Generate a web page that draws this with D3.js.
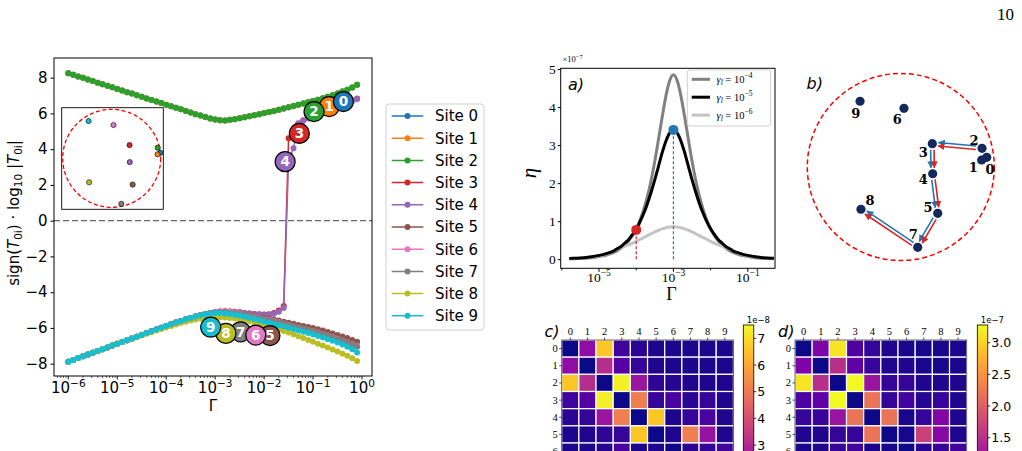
<!DOCTYPE html>
<html>
<head>
<meta charset="utf-8">
<script src="https://cdn.jsdelivr.net/npm/d3@7"></script>
<style>
body { margin: 0; background: #fff; }
svg { display: block; }
text { font-family: "DejaVu Sans", sans-serif; }
</style>
</head>
<body>
<div id="fig"></div>
<script>
// ---------------- data ----------------
// main panel: Gamma grid (log10) and sign(T0i)*log10|T0i| per site
const logGamma = [-6.0,-5.9,-5.8,-5.7,-5.6,-5.5,-5.4,-5.3,-5.2,-5.1,-5.0,-4.9,-4.8,-4.7,-4.6,-4.5,-4.4,-4.3,-4.2,-4.1,
  -4.0,-3.9,-3.8,-3.7,-3.6,-3.5,-3.4,-3.3,-3.2,-3.1,-3.0,-2.9,-2.8,-2.7,-2.6,-2.5,-2.4,-2.3,-2.2,-2.1,
  -2.0,-1.9,-1.8,-1.7,-1.6,-1.5,-1.4,-1.3,-1.2,-1.1,-1.0,-0.9,-0.8,-0.7,-0.6,-0.5,-0.4,-0.3,-0.2,-0.1];

// sites 0, 1 and 2 sit on the same upper branch
const upperBranch = [8.25,8.16,8.07,7.99,7.90,7.81,7.72,7.63,7.55,7.46, 7.37,7.28,7.19,7.11,7.02,6.93,6.84,6.75,6.67,6.58,
  6.49,6.40,6.31,6.23,6.14,6.05,5.96,5.88,5.80,5.72, 5.66,5.62,5.61,5.64,5.68,5.73,5.78,5.84,5.90,5.96,
  6.02,6.08,6.14,6.21,6.28,6.35,6.42,6.49,6.56,6.63, 6.70,6.77,6.85,6.93,7.02,7.12,7.22,7.33,7.45,7.60];
const site3 = [-7.89,-7.79,-7.69,-7.59,-7.49,-7.39,-7.29,-7.19,-7.09,-6.99, -6.89,-6.79,-6.69,-6.59,-6.49,-6.39,-6.29,-6.19,-6.09,-5.99,
  -5.89,-5.80,-5.70,-5.61,-5.52,-5.44,-5.36,-5.29,-5.23,-5.17, -5.12,-5.08,-5.07,-5.08,-5.10,-5.13,-5.16,-5.19,-5.22,-5.24,
  -5.25,-5.23,-5.17,-5.03,-4.77,4.61,4.95,5.42,5.62,5.75, 5.87,5.98,6.09,6.20,6.31,6.41,6.52,6.63,6.73,6.84];
const site4 = [-7.89,-7.79,-7.69,-7.59,-7.49,-7.39,-7.29,-7.19,-7.09,-6.99, -6.89,-6.79,-6.69,-6.59,-6.49,-6.39,-6.29,-6.19,-6.09,-5.99,
  -5.89,-5.80,-5.70,-5.61,-5.52,-5.44,-5.36,-5.29,-5.23,-5.17, -5.12,-5.08,-5.07,-5.08,-5.10,-5.13,-5.16,-5.19,-5.22,-5.25,
  -5.27,-5.26,-5.21,-5.10,-4.88,3.30,4.05,5.45,5.59,5.71, 5.83,5.94,6.05,6.16,6.27,6.38,6.49,6.60,6.70,6.81];
const site5 = [-7.89,-7.79,-7.69,-7.59,-7.49,-7.39,-7.29,-7.19,-7.09,-6.99, -6.89,-6.79,-6.69,-6.59,-6.49,-6.39,-6.29,-6.19,-6.09,-5.99,
  -5.89,-5.80,-5.70,-5.61,-5.52,-5.44,-5.36,-5.29,-5.23,-5.17, -5.13,-5.10,-5.09,-5.11,-5.14,-5.18,-5.22,-5.27,-5.32,-5.37,
  -5.42,-5.47,-5.53,-5.59,-5.65,-5.71,-5.77,-5.83,-5.89,-5.95, -6.01,-6.08,-6.15,-6.23,-6.31,-6.39,-6.48,-6.57,-6.67,-6.77];
const site6 = [-7.89,-7.79,-7.69,-7.59,-7.49,-7.39,-7.29,-7.19,-7.09,-6.99, -6.89,-6.79,-6.69,-6.59,-6.49,-6.39,-6.29,-6.19,-6.09,-5.99,
  -5.89,-5.80,-5.70,-5.61,-5.52,-5.44,-5.36,-5.29,-5.23,-5.17, -5.13,-5.09,-5.08,-5.10,-5.14,-5.19,-5.24,-5.30,-5.36,-5.42,
  -5.49,-5.55,-5.62,-5.69,-5.76,-5.83,-5.90,-5.97,-6.04,-6.11, -6.18,-6.26,-6.34,-6.42,-6.51,-6.60,-6.70,-6.80,-6.91,-7.03];
const site7 = [-7.89,-7.79,-7.69,-7.59,-7.49,-7.39,-7.29,-7.19,-7.09,-6.99, -6.89,-6.79,-6.69,-6.59,-6.49,-6.39,-6.29,-6.19,-6.09,-5.99,
  -5.89,-5.80,-5.70,-5.61,-5.52,-5.44,-5.36,-5.29,-5.23,-5.18, -5.15,-5.13,-5.13,-5.15,-5.18,-5.22,-5.27,-5.33,-5.39,-5.45,
  -5.51,-5.57,-5.64,-5.71,-5.78,-5.85,-5.92,-5.99,-6.06,-6.13, -6.20,-6.28,-6.36,-6.44,-6.53,-6.62,-6.72,-6.82,-6.93,-7.05];
const site8 = [-7.89,-7.79,-7.69,-7.59,-7.49,-7.39,-7.29,-7.19,-7.09,-6.99, -6.89,-6.79,-6.69,-6.60,-6.51,-6.42,-6.33,-6.24,-6.15,-6.06,
  -5.97,-5.89,-5.81,-5.73,-5.66,-5.59,-5.53,-5.48,-5.44,-5.42, -5.41,-5.41,-5.42,-5.44,-5.47,-5.51,-5.56,-5.62,-5.68,-5.76,
  -5.85,-5.93,-6.01,-6.09,-6.17,-6.26,-6.36,-6.46,-6.57,-6.67, -6.78,-6.88,-6.99,-7.10,-7.21,-7.32,-7.44,-7.56,-7.70,-7.85];
const site9 = [-7.89,-7.79,-7.69,-7.59,-7.49,-7.39,-7.29,-7.19,-7.09,-6.99, -6.89,-6.79,-6.69,-6.59,-6.49,-6.39,-6.29,-6.19,-6.09,-5.99,
  -5.89,-5.80,-5.70,-5.61,-5.52,-5.44,-5.36,-5.29,-5.23,-5.19, -5.17,-5.17,-5.19,-5.22,-5.26,-5.31,-5.37,-5.43,-5.50,-5.57,
  -5.64,-5.71,-5.78,-5.85,-5.92,-5.99,-6.06,-6.13,-6.21,-6.29, -6.37,-6.45,-6.54,-6.63,-6.72,-6.82,-6.93,-7.05,-7.20,-7.38];

const siteValues = [upperBranch, upperBranch, upperBranch, site3, site4, site5, site6, site7, site8, site9];
const siteNames = ["Site 0","Site 1","Site 2","Site 3","Site 4","Site 5","Site 6","Site 7","Site 8","Site 9"];
const siteColors = ["#1f77b4","#ff7f0e","#2ca02c","#d62728","#9467bd","#8c564b","#e377c2","#7f7f7f","#bcbd22","#17becf"];

// numbered markers on the main panel (log10 Gamma, value)
const markerGammaExp = [-0.38,-0.67,-0.98,-1.28,-1.57,-1.88,-2.17,-2.48,-2.78,-3.09];
const markerValue = [6.66,6.38,6.10,4.88,3.30,-6.43,-6.40,-6.22,-6.31,-5.96];
const markerOrder = [1,0,2,3,4,5,7,6,8,9];

// site positions on the ring (units of the ring radius, y up)
const siteX = [0.919,0.865,0.869,0.337,0.341,0.395,0.034,0.181,-0.426,-0.436];
const siteY = [0.104,0.075,0.200,0.249,-0.072,-0.495,0.628,-0.859,-0.452,0.703];
const hopPath = [2,3,4,5,7,8];

// panel a: eta (x1e-7) vs Gamma for three gamma_l
const etaGammaExp = [-5.8,-5.7,-5.6,-5.5,-5.4,-5.3,-5.2,-5.1,-5.0,-4.9,-4.8,-4.7,-4.6,-4.5,-4.4,-4.3,-4.2,-4.1,-4.0,-3.9,
  -3.8,-3.7,-3.6,-3.5,-3.4,-3.3,-3.2,-3.1,-3.0,-2.9,-2.8,-2.7,-2.6,-2.5,-2.4,-2.3,-2.2,-2.1,-2.0,-1.9,
  -1.8,-1.7,-1.6,-1.5,-1.4,-1.3,-1.2,-1.1,-1.0,-0.9,-0.8,-0.7,-0.6,-0.5,-0.4,-0.3];
const etaHigh = [0.009,0.012,0.015,0.019,0.025,0.032,0.040,0.052,0.067,0.086,0.11,0.14,0.18,0.23,0.30,0.38,0.49,0.625,0.79,1.02,
  1.30,1.65,2.07,2.58,3.16,3.75,4.30,4.70,4.85,4.70,4.30,3.75,3.16,2.58,2.07,1.65,1.30,1.02,0.79,0.625,
  0.49,0.38,0.30,0.23,0.18,0.14,0.11,0.086,0.067,0.052,0.040,0.032,0.025,0.019,0.015,0.012];
const etaMid = [0.017,0.022,0.027,0.033,0.040,0.050,0.063,0.080,0.10,0.12,0.15,0.18,0.22,0.28,0.34,0.43,0.52,0.65,0.77,0.98,
  1.20,1.46,1.76,2.09,2.45,2.81,3.11,3.32,3.40,3.32,3.11,2.81,2.45,2.09,1.76,1.46,1.20,0.98,0.80,0.65,
  0.52,0.43,0.34,0.28,0.22,0.18,0.15,0.12,0.10,0.080,0.063,0.050,0.040,0.033,0.027,0.022];
const etaLow = [0.016,0.020,0.025,0.031,0.038,0.048,0.060,0.075,0.09,0.11,0.14,0.17,0.21,0.27,0.309,0.344,0.383,0.424,0.469,0.517,
  0.567,0.619,0.669,0.717,0.761,0.798,0.826,0.844,0.85,0.844,0.826,0.798,0.761,0.717,0.669,0.619,0.567,0.517,0.469,0.424,
  0.383,0.344,0.309,0.27,0.21,0.17,0.14,0.11,0.09,0.075,0.06,0.048,0.038,0.031,0.025,0.020];
const etaLabels = ["\u22124", "\u22125", "\u22126"];
const etaMarkExp = [-4.0, -3.0];

// panels c and d: transfer matrices
const matrixC = [ // x1e-8
  [0,2.25,6.6,0.68,0.38,0.15,0.15,0.15,0.15,0.15],
  [2.25,0,3.08,1.13,0.53,0.23,0.15,0.15,0.15,0.15],
  [6.6,3.08,0,7.35,2.48,0.45,0.3,0.23,0.23,0.23],
  [0.68,1.13,7.35,0,5.1,0.53,0.9,0.38,0.53,0.23],
  [0.38,0.53,2.48,5.1,0,6.6,0.15,0.53,0.9,0.23],
  [0.15,0.23,0.45,0.53,6.6,0,0.23,5.1,2.4,0.23],
  [0.15,0.15,0.3,0.9,0.15,0.23,0,0.38,0.53,0.75],
  [0.15,0.15,0.23,0.38,0.53,5.1,0.38,0,0.75,0.3],
  [0.15,0.15,0.23,0.53,0.9,2.4,0.53,0.75,0,0.38],
  [0.15,0.15,0.23,0.23,0.23,0.23,0.75,0.3,0.38,0]];
const matrixD = [ // x1e-7
  [0.2,0.97,3.13,0.6,0.42,0.29,0.26,0.26,0.26,0.26],
  [0.97,0.2,1.49,0.72,0.45,0.29,0.29,0.26,0.26,0.26],
  [3.13,1.49,0.2,3.28,1.19,0.42,0.42,0.29,0.29,0.29],
  [0.6,0.72,3.28,0.2,2.2,0.42,0.51,0.32,0.42,0.29],
  [0.42,0.45,1.19,2.2,0.2,2.2,0.26,0.42,1.03,0.29],
  [0.29,0.29,0.42,0.42,2.2,0.2,0.26,1.68,1.06,0.29],
  [0.26,0.29,0.42,0.51,0.26,0.26,0.2,0.35,0.42,0.51],
  [0.26,0.26,0.29,0.32,0.42,1.68,0.35,0.2,0.51,0.32],
  [0.26,0.26,0.29,0.42,1.03,1.06,0.42,0.51,0.2,0.35],
  [0.26,0.26,0.29,0.29,0.29,0.29,0.51,0.32,0.35,0.2]];
const cbTicksC = [3,4,5,6,7];
const cbTicksD = [1.5,2.0,2.5,3.0];

// ---------------- figure ----------------
const SERIF = '"Liberation Serif", "DejaVu Serif", serif';
const svg = d3.select("#fig").append("svg").attr("width", 1022).attr("height", 451);
svg.append("rect").attr("width", 1022).attr("height", 451).attr("fill", "#fff");
const defs = svg.append("defs");

// page number
svg.append("text").attr("x", 1014).attr("y", 20).attr("text-anchor", "end")
  .style("font-family", SERIF).attr("font-size", 17).text("10");

// helper: "10^k" label
function powLabel(g, x, y, exp, size, supSize, family) {
  const t = g.append("text").attr("x", x).attr("y", y).attr("text-anchor", "middle")
    .attr("font-size", size).style("font-family", family);
  t.append("tspan").text("10");
  t.append("tspan").attr("font-size", supSize).attr("dy", -size * 0.42).text(exp < 0 ? "\u2212" + (-exp) : exp);
  return t;
}

// ======== main panel ========
const M = {left: 54, right: 372, top: 58, bottom: 376};
const X_MAIN = d3.scaleLog().domain([Math.pow(10, -6.292), Math.pow(10, 0.204)]).range([M.left, M.right]);
const Y_MAIN = d3.scaleLinear().domain([-8.69, 9.10]).range([M.bottom, M.top]);

defs.append("clipPath").attr("id", "clipMain").append("rect")
  .attr("x", M.left).attr("y", M.top).attr("width", M.right - M.left).attr("height", M.bottom - M.top);

const mainG = svg.append("g");
mainG.append("line").attr("x1", M.left).attr("x2", M.right)
  .attr("y1", Y_MAIN(0)).attr("y2", Y_MAIN(0))
  .attr("stroke", "#666").attr("stroke-width", 1.4).attr("stroke-dasharray", "6,3");

const plotArea = mainG.append("g").attr("clip-path", "url(#clipMain)");
const lineMain = d3.line().x(d => X_MAIN(Math.pow(10, d[0]))).y(d => Y_MAIN(d[1]));
siteValues.forEach((vals, s) => {
  const pts = logGamma.map((lg, i) => [lg, vals[i]]);
  const g = plotArea.append("g");
  g.append("path").attr("d", lineMain(pts)).attr("fill", "none")
    .attr("stroke", siteColors[s]).attr("stroke-width", 1.5);
  g.selectAll("circle").data(pts).enter().append("circle")
    .attr("cx", d => X_MAIN(Math.pow(10, d[0]))).attr("cy", d => Y_MAIN(d[1]))
    .attr("r", 3).attr("fill", siteColors[s]);
});

// numbered markers
markerOrder.forEach(s => {
  const cx = X_MAIN(Math.pow(10, markerGammaExp[s])), cy = Y_MAIN(markerValue[s]);
  mainG.append("circle").attr("cx", cx).attr("cy", cy).attr("r", 10)
    .attr("fill", siteColors[s]).attr("stroke", "#000").attr("stroke-width", 1.2);
  mainG.append("text").attr("x", cx).attr("y", cy + 4.8).attr("text-anchor", "middle")
    .attr("font-size", 13.5).attr("font-weight", "bold").attr("fill", "#fff").text(s);
});

// frame and axes
mainG.append("rect").attr("x", M.left).attr("y", M.top).attr("width", M.right - M.left)
  .attr("height", M.bottom - M.top).attr("fill", "none").attr("stroke", "#000").attr("stroke-width", 1);

const yAxisMain = mainG.append("g").attr("transform", "translate(" + M.left + ",0)")
  .call(d3.axisLeft(Y_MAIN).tickValues([-8,-6,-4,-2,0,2,4,6,8]).tickSize(3.5).tickPadding(3));
yAxisMain.select(".domain").remove();
yAxisMain.selectAll("text").attr("font-size", 15).style("font-family", "DejaVu Sans");

const xAxisMain = mainG.append("g");
for (let e = -6; e <= 0; e++) {
  const x = X_MAIN(Math.pow(10, e));
  xAxisMain.append("line").attr("x1", x).attr("x2", x).attr("y1", M.bottom).attr("y2", M.bottom + 3.5)
    .attr("stroke", "#000").attr("stroke-width", 0.9);
  powLabel(xAxisMain, x, 393, e, 15, 10.5, "DejaVu Sans");
}
for (let e = -7; e <= 0; e++) {
  for (let k = 2; k <= 9; k++) {
    const v = k * Math.pow(10, e);
    if (v < X_MAIN.domain()[0] || v > X_MAIN.domain()[1]) continue;
    const x = X_MAIN(v);
    xAxisMain.append("line").attr("x1", x).attr("x2", x).attr("y1", M.bottom).attr("y2", M.bottom + 2)
      .attr("stroke", "#000").attr("stroke-width", 0.6);
  }
}
mainG.append("text").attr("x", (M.left + M.right) / 2).attr("y", 410.5).attr("text-anchor", "middle")
  .attr("font-size", 15).text("\u0393");

const ylab = mainG.append("text").attr("transform", "translate(19," + ((M.top + M.bottom) / 2 - 4) + ") rotate(-90)")
  .attr("text-anchor", "middle").attr("font-size", 15);
ylab.append("tspan").text("sign(");
ylab.append("tspan").attr("font-style", "italic").text("T");
ylab.append("tspan").attr("font-size", 10.5).attr("dy", 3).text("0i");
ylab.append("tspan").attr("dy", -3).text(") \u00b7 log");
ylab.append("tspan").attr("font-size", 10.5).attr("dy", 3).text("10");
ylab.append("tspan").attr("dy", -3).text(" |");
ylab.append("tspan").attr("font-style", "italic").text("T");
ylab.append("tspan").attr("font-size", 10.5).attr("dy", 3).text("0i");
ylab.append("tspan").attr("dy", -3).text("|");

// inset with site layout
const inset = {x: 61.7, y: 107.7, size: 101.6, cx: 111.7, cy: 158.3, ring: 49, unit: 53};
const insetG = mainG.append("g");
insetG.append("rect").attr("x", inset.x).attr("y", inset.y).attr("width", inset.size).attr("height", inset.size)
  .attr("fill", "#fff").attr("stroke", "#000").attr("stroke-width", 0.9);
const IX = d3.scaleLinear().domain([-1, 1]).range([inset.cx - inset.unit, inset.cx + inset.unit]);
const IY = d3.scaleLinear().domain([-1, 1]).range([inset.cy + inset.unit, inset.cy - inset.unit]);
insetG.append("circle").attr("cx", inset.cx).attr("cy", inset.cy).attr("r", inset.ring)
  .attr("fill", "none").attr("stroke", "#ff0000").attr("stroke-width", 1.3).attr("stroke-dasharray", "4,2.5");
insetG.selectAll(".sd").data(d3.range(10)).enter().append("circle")
  .attr("cx", i => IX(siteX[i])).attr("cy", i => IY(siteY[i])).attr("r", 2.6)
  .attr("fill", i => siteColors[i]).attr("stroke", "#000").attr("stroke-width", 0.6);

// legend
const leg = mainG.append("g");
leg.append("rect").attr("x", 386).attr("y", 104).attr("width", 98).attr("height", 226).attr("rx", 3)
  .attr("fill", "#fff").attr("stroke", "#d0d0d0").attr("stroke-width", 1);
siteNames.forEach((name, i) => {
  const y = 116 + i * 22.2;
  leg.append("line").attr("x1", 391.7).attr("x2", 423.3).attr("y1", y).attr("y2", y)
    .attr("stroke", siteColors[i]).attr("stroke-width", 1.5);
  leg.append("circle").attr("cx", 407.5).attr("cy", y).attr("r", 3).attr("fill", siteColors[i]);
  leg.append("text").attr("x", 435).attr("y", y + 5.3).attr("font-size", 15).text(name);
});

// ======== panel a ========
const A = {left: 560.7, right: 775, top: 68.3, bottom: 268.3};
const X_A = d3.scaleLog().domain([Math.pow(10, -6.03), Math.pow(10, -0.27)]).range([A.left, A.right]);
const Y_A = d3.scaleLinear().domain([-0.24, 5.02]).range([A.bottom, A.top]);
const aG = svg.append("g");
const lineA = d3.line().x(d => X_A(Math.pow(10, d[0]))).y(d => Y_A(d[1])).curve(d3.curveMonotoneX);
const etaSeries = [
  {vals: etaHigh, color: "#808080"},
  {vals: etaLow, color: "#c4c4c4"},
  {vals: etaMid, color: "#000000"}
];
etaSeries.forEach(s => {
  aG.append("path").attr("d", lineA(etaGammaExp.map((e, i) => [e, s.vals[i]])))
    .attr("fill", "none").attr("stroke", s.color).attr("stroke-width", 3);
});
const markColors = ["#d62728", "#1f77b4"];
etaMarkExp.forEach((e, k) => {
  const i = etaGammaExp.indexOf(e);
  const x = X_A(Math.pow(10, e));
  aG.append("line").attr("x1", x).attr("x2", x).attr("y1", Y_A(0)).attr("y2", Y_A(etaMid[i]))
    .attr("stroke", markColors[k]).attr("stroke-width", 1.2).attr("stroke-dasharray", "3,2");
  aG.append("circle").attr("cx", x).attr("cy", Y_A(etaMid[i])).attr("r", 5).attr("fill", markColors[k]);
});
aG.append("rect").attr("x", A.left).attr("y", A.top).attr("width", A.right - A.left).attr("height", A.bottom - A.top)
  .attr("fill", "none").attr("stroke", "#000").attr("stroke-width", 1);
const yAxisA = aG.append("g").attr("transform", "translate(" + A.left + ",0)")
  .call(d3.axisLeft(Y_A).tickValues([0,1,2,3,4,5]).tickFormat(d3.format("d")).tickSize(3).tickPadding(2));
yAxisA.select(".domain").remove();
yAxisA.selectAll("text").attr("font-size", 13.5).style("font-family", SERIF);
[-5, -3, -1].forEach(e => {
  const x = X_A(Math.pow(10, e));
  aG.append("line").attr("x1", x).attr("x2", x).attr("y1", A.bottom).attr("y2", A.bottom + 3.5).attr("stroke", "#000");
  powLabel(aG, x, 282, e, 13.5, 9.5, SERIF);
});
[-6, -4, -2].forEach(e => {
  const x = X_A(Math.pow(10, e));
  aG.append("line").attr("x1", x).attr("x2", x).attr("y1", A.bottom).attr("y2", A.bottom + 2).attr("stroke", "#000");
});
aG.append("text").attr("x", 671.5).attr("y", 300).attr("text-anchor", "middle").attr("font-size", 18)
  .style("font-family", SERIF).text("\u0393");
aG.append("text").attr("transform", "translate(536,173) rotate(-90)").attr("text-anchor", "middle")
  .attr("font-size", 21).attr("font-style", "italic").style("font-family", SERIF).text("\u03b7");
const offA = aG.append("text").attr("x", 562.5).attr("y", 62).attr("font-size", 8.5).style("font-family", SERIF);
offA.append("tspan").text("\u00d710");
offA.append("tspan").attr("font-size", 6.5).attr("dy", -3).text("\u22127");
aG.append("text").attr("x", 568).attr("y", 90).attr("font-size", 16).attr("font-style", "italic").text("a)");

// legend of panel a
aG.append("rect").attr("x", 687.3).attr("y", 70).attr("width", 83.4).attr("height", 56).attr("rx", 2.5)
  .attr("fill", "#fff").attr("stroke", "#d0d0d0");
[etaSeries[0], etaSeries[2], etaSeries[1]].forEach((s, i) => {
  const y = 79.3 + i * 17.9;
  aG.append("line").attr("x1", 691.7).attr("x2", 710).attr("y1", y).attr("y2", y)
    .attr("stroke", s.color).attr("stroke-width", 3);
  const t = aG.append("text").attr("x", 716.5).attr("y", y + 3.5).attr("font-size", 10.5).style("font-family", SERIF);
  t.append("tspan").attr("font-style", "italic").text("\u03b3");
  t.append("tspan").attr("font-size", 7.5).attr("font-style", "italic").attr("dy", 2.5).text("l");
  t.append("tspan").attr("dy", -2.5).text(" = 10");
  t.append("tspan").attr("font-size", 7.5).attr("dy", -4.5).text(etaLabels[i]);
});

// ======== panel b ========
const B = {cx: 900.8, cy: 167, r: 93.5};
const bG = svg.append("g");
const BX = d3.scaleLinear().domain([-1, 1]).range([B.cx - B.r, B.cx + B.r]);
const BY = d3.scaleLinear().domain([-1, 1]).range([B.cy + B.r, B.cy - B.r]);
bG.append("circle").attr("cx", B.cx).attr("cy", B.cy).attr("r", B.r).attr("fill", "none")
  .attr("stroke", "#ff0000").attr("stroke-width", 1.5).attr("stroke-dasharray", "5,3");
bG.append("text").attr("x", 806.5).attr("y", 89).attr("font-size", 16).attr("font-style", "italic").text("b)");

["#1f77b4", "#d62728"].forEach((c, k) => {
  defs.append("marker").attr("id", "head" + k).attr("viewBox", "0 0 10 10").attr("refX", 9).attr("refY", 5)
    .attr("markerWidth", 7).attr("markerHeight", 7).attr("markerUnits", "userSpaceOnUse").attr("orient", "auto")
    .append("path").attr("d", "M0,0 L10,5 L0,10 z").attr("fill", c);
});
for (let h = 0; h < hopPath.length - 1; h++) {
  const a = hopPath[h], b = hopPath[h + 1];
  const x0 = BX(siteX[a]), y0 = BY(siteY[a]), x1 = BX(siteX[b]), y1 = BY(siteY[b]);
  const len = Math.hypot(x1 - x0, y1 - y0), ux = (x1 - x0) / len, uy = (y1 - y0) / len;
  const nx = -uy, ny = ux;
  [1, -1].forEach((sgn, k) => {
    const off = 1.7 * sgn;
    bG.append("line")
      .attr("x1", x0 + ux * 6 + nx * off).attr("y1", y0 + uy * 6 + ny * off)
      .attr("x2", x1 - ux * 6 + nx * off).attr("y2", y1 - uy * 6 + ny * off)
      .attr("stroke", k === 0 ? "#1f77b4" : "#d62728").attr("stroke-width", 1.6)
      .attr("marker-end", "url(#head" + k + ")");
  });
}
const bLabelOffset = [[3.3,12.7],[-8.4,7.3],[-8,-8.3],[-9,9],[-9.4,5.6],[-9.7,-5.6],[-6.7,11.7],[-4.4,-13],[9,-8.3],[-4.3,12]];
d3.range(10).forEach(i => {
  const x = BX(siteX[i]), y = BY(siteY[i]);
  bG.append("circle").attr("cx", x).attr("cy", y).attr("r", 4.6).attr("fill", "#15285c");
  bG.append("text").attr("x", x + bLabelOffset[i][0]).attr("y", y + bLabelOffset[i][1] + 4.5)
    .attr("text-anchor", "middle").attr("font-size", 13).attr("font-weight", "bold")
    .style("font-family", '"DejaVu Serif", serif').text(i);
});

// ======== panels c and d ========
function heatmap(opts) {
  const g = svg.append("g");
  const n = 10, cell = 17.17;
  const X = d3.scaleBand().domain(d3.range(n)).range([opts.x, opts.x + n * cell]);
  const Y = d3.scaleBand().domain(d3.range(n)).range([opts.y, opts.y + n * cell]);
  const color = d3.scaleSequential(d3.interpolatePlasma).domain(opts.domain);
  opts.matrix.forEach((row, r) => row.forEach((v, c) => {
    g.append("rect").attr("x", X(c)).attr("y", Y(r)).attr("width", cell).attr("height", cell)
      .attr("fill", color(v)).attr("stroke", "#fff").attr("stroke-width", 1.2);
  }));
  g.append("rect").attr("x", opts.x).attr("y", opts.y).attr("width", n * cell).attr("height", n * cell)
    .attr("fill", "none").attr("stroke", "#444").attr("stroke-width", 0.8);
  d3.range(n).forEach(i => {
    const cx = X(i) + cell / 2, cy = Y(i) + cell / 2;
    g.append("line").attr("x1", cx).attr("x2", cx).attr("y1", opts.y).attr("y2", opts.y - 2.5).attr("stroke", "#000").attr("stroke-width", 0.7);
    g.append("text").attr("x", cx).attr("y", opts.y - 5).attr("text-anchor", "middle")
      .attr("font-size", 10.5).style("font-family", SERIF).text(i);
    g.append("line").attr("x1", opts.x).attr("x2", opts.x - 2.5).attr("y1", cy).attr("y2", cy).attr("stroke", "#000").attr("stroke-width", 0.7);
    // row labels below the page edge are not drawn
    if (cy < 452) {
      g.append("text").attr("x", opts.x - 4).attr("y", cy + 3.5).attr("text-anchor", "end")
        .attr("font-size", 10.5).style("font-family", SERIF).text(i);
    }
  });
  g.append("text").attr("x", opts.labelX).attr("y", 337).attr("font-size", 16).attr("font-style", "italic").text(opts.label);

  // colorbar
  const CB = d3.scaleLinear().domain(opts.domain).range([opts.cbBottom, 325]);
  const gid = "grad" + opts.label.charAt(0);
  const grad = defs.append("linearGradient").attr("id", gid).attr("x1", 0).attr("y1", 1).attr("x2", 0).attr("y2", 0);
  d3.range(0, 1.0001, 0.05).forEach(t => grad.append("stop").attr("offset", t).attr("stop-color", d3.interpolatePlasma(t)));
  g.append("rect").attr("x", opts.cbX).attr("y", 325).attr("width", 10.5).attr("height", opts.cbBottom - 325)
    .attr("fill", "url(#" + gid + ")").attr("stroke", "#000").attr("stroke-width", 0.8);
  opts.ticks.forEach(v => {
    const y = CB(v);
    g.append("line").attr("x1", opts.cbX + 10.5).attr("x2", opts.cbX + 13).attr("y1", y).attr("y2", y).attr("stroke", "#000").attr("stroke-width", 0.8);
    g.append("text").attr("x", opts.cbX + 14).attr("y", y + 4.5).attr("font-size", 12.5).text(opts.fmt(v));
  });
  g.append("text").attr("x", opts.cbX + 3.5).attr("y", 322.5).attr("font-size", 8.5).text(opts.offset);
}
heatmap({matrix: matrixC, x: 561.7, y: 340, domain: [0, 7.5], label: "c)", labelX: 544.5,
  cbX: 743.3, cbBottom: 525, ticks: cbTicksC, fmt: d3.format("d"), offset: "1e\u22128"});
heatmap({matrix: matrixD, x: 795, y: 340, domain: [0.2, 3.28], label: "d)", labelX: 778,
  cbX: 977.3, cbBottom: 520, ticks: cbTicksD, fmt: d3.format(".1f"), offset: "1e\u22127"});
</script>
</body>
</html>
